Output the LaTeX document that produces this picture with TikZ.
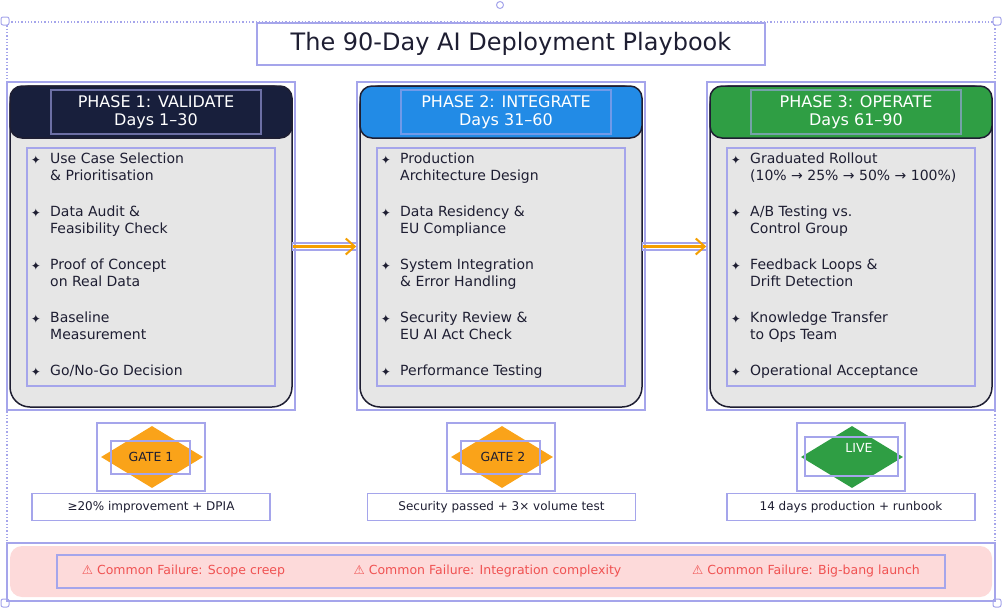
\documentclass[tikz,border=0pt]{standalone}
\usepackage{fontspec}
\setmainfont{DejaVu Sans}
\usepackage{tikz}
\usetikzlibrary{arrows.meta,shapes.geometric,calc}

\definecolor{selline}{RGB}{165,165,235}
\definecolor{inkdark}{RGB}{30,30,50}
\definecolor{navyhead}{RGB}{24,31,60}
\definecolor{bluehead}{RGB}{34,139,230}
\definecolor{greenhead}{RGB}{47,158,68}
\definecolor{bodygray}{RGB}{230,230,230}
\definecolor{gateorange}{RGB}{250,163,25}
\definecolor{failpink}{RGB}{253,218,218}
\definecolor{failred}{RGB}{240,82,82}
\definecolor{arroworange}{RGB}{245,159,0}

\begin{document}
\begin{tikzpicture}[x=1pt,y=-1pt,
  sel/.style={draw=selline,line width=1.3pt},
  phasebody/.style={draw=inkdark,line width=1.5pt,fill=bodygray,rounded corners=20pt,
    minimum width=282pt,minimum height=321pt},
  phasehead/.style={draw=inkdark,line width=1.5pt,rounded corners=12pt,
    minimum width=282pt,minimum height=52pt},
  headtext/.style={sel,draw opacity=0.6,text=white,align=center,minimum width=210pt,
    minimum height=44pt,font=\fontsize{16}{18}\selectfont},
  itemtext/.style={anchor=west,inner sep=0pt,text=inkdark,text height=10pt,text depth=3pt,
    font=\fontsize{14}{16}\selectfont},
  bulletmark/.style={inner sep=0pt,text=inkdark,font=\fontsize{12}{14}\selectfont},
  flowarrow/.style={draw=arroworange,line width=2.6pt,shorten >=3pt,
    -{Straight Barb[length=9pt,width=16pt,line width=2pt]}},
  gate/.style={diamond,inner sep=0pt,minimum width=102pt,minimum height=62pt},
  gatelabel/.style={inner sep=0pt,font=\fontsize{12.5}{15}\selectfont},
  gatecap/.style={sel,fill=white,text=inkdark,minimum height=27pt,
    font=\fontsize{12}{14}\selectfont},
  failtext/.style={inner sep=0pt,text=failred,font=\fontsize{12.5}{15}\selectfont}
]
\useasboundingbox (0,0) rectangle (1002,608);

%-------------------------------------------------------------------
% Selection frame round the whole board
\draw[selline,dotted,line width=1.3pt] (7,22) rectangle (995,601);
\foreach \x/\y in {5/21,997/21,5/603,997/603}{
    \draw[selline,fill=white,line width=1pt,rounded corners=2pt] (\x-4,\y-4) rectangle (\x+4,\y+4);}
\draw[selline,fill=white,line width=1pt] (500,5) circle(3.5pt);

% Title
\node[sel,fill=white,text=inkdark,minimum width=508pt,minimum height=42pt,
  font=\fontsize{24}{26}\selectfont] (title) at (511,44) {The 90-Day AI Deployment Playbook};

%-------------------------------------------------------------------
% Phase frames
\foreach \i/\cx/\col/\name/\days in {1/151/navyhead/VALIDATE/1--30,
    2/501/bluehead/INTEGRATE/31--60,3/851/greenhead/OPERATE/61--90}{
    \draw[sel] (\cx-144,82) rectangle (\cx+144,410);
    \node[phasebody] (p\i) at (\cx,246.5) {};
    \node[phasehead,fill=\col] (h\i) at (\cx,112) {};
    \node[headtext] (ht\i) at (\cx+5,112) {PHASE \i: \name\\Days \days};
    \draw[sel] (\cx-124,148) rectangle (\cx+124,386);
}

% Phase 1 items
\foreach \j/\a/\b in {1/{Use Case Selection}/{\& Prioritisation},
    2/{Data Audit \&}/{Feasibility Check},3/{Proof of Concept}/{on Real Data},
    4/{Baseline}/{Measurement},5/{Go/No-Go Decision}/{}}{
    \pgfmathsetmacro\yy{160+53*(\j-1)}
    \node[bulletmark] (p1s\j) at (36,\yy) {✦};
    \node[itemtext] (p1a\j) at (50,\yy) {\a};
    \node[itemtext] (p1b\j) at (50,\yy+17) {\b};
}

% Phase 2 items
\foreach \j/\a/\b in {1/{Production}/{Architecture Design},
    2/{Data Residency \&}/{EU Compliance},3/{System Integration}/{\& Error Handling},
    4/{Security Review \&}/{EU AI Act Check},5/{Performance Testing}/{}}{
    \pgfmathsetmacro\yy{160+53*(\j-1)}
    \node[bulletmark] (p2s\j) at (386,\yy) {✦};
    \node[itemtext] (p2a\j) at (400,\yy) {\a};
    \node[itemtext] (p2b\j) at (400,\yy+17) {\b};
}

% Phase 3 items
\foreach \j/\a/\b in {1/{Graduated Rollout}/{(10\% → 25\% → 50\% → 100\%)},
    2/{A/B Testing vs.}/{Control Group},3/{Feedback Loops \&}/{Drift Detection},
    4/{Knowledge Transfer}/{to Ops Team},5/{Operational Acceptance}/{}}{
    \pgfmathsetmacro\yy{160+53*(\j-1)}
    \node[bulletmark] (p3s\j) at (736,\yy) {✦};
    \node[itemtext] (p3a\j) at (750,\yy) {\a};
    \node[itemtext] (p3b\j) at (750,\yy+17) {\b};
}

% Hand-over arrows
\foreach \i/\k in {1/2,2/3}{
    \draw[sel] ($(p\i.east)+(0,-3.5)$) rectangle ($(p\k.west)+(-3,3.5)$);
    \draw[flowarrow] (p\i.east) -- (p\k.west);
}

%-------------------------------------------------------------------
% Gates
\foreach \i/\cx/\col/\lbl/\tc/\tx/\ty in {1/152/gateorange/GATE 1/inkdark/151/457,
    2/502/gateorange/GATE 2/inkdark/503/457,3/852/greenhead/LIVE/white/859/448}{
    \draw[sel] (\cx-55,423) rectangle (\cx+53,491);
    \node[gate,fill=\col] (g\i) at (\cx,457) {};
    \node[gatelabel,text=\tc] (gl\i) at (\tx,\ty) {\lbl};
}
\draw[sel] (111,441) rectangle (190,474);
\draw[sel] (461,441) rectangle (540,474);
\draw[sel] (805,437) rectangle (898,476);

% Gate criteria
\foreach \i/\cx/\w/\txt in {1/151/238/{≥20\% improvement + DPIA},
    2/501.5/268/{Security passed + 3× volume test},3/851/248/{14 days production + runbook}}{
    \node[gatecap,minimum width=\w pt] (gc\i) at (\cx,507) {\txt};
}

%-------------------------------------------------------------------
% Common failures band
\draw[sel] (7,543) rectangle (995,601);
\node[fill=failpink,rounded corners=12pt,minimum width=982pt,minimum height=51pt] (band) at (501,571.5) {};
\draw[sel] (57,555) rectangle (945,588);
\foreach \i/\cx/\txt in {1/183.5/{Scope creep},2/487.5/{Integration complexity},3/806/{Big-bang launch}}{
    \node[failtext] (f\i) at (\cx,571) {⚠ Common Failure: \txt};
}

\end{tikzpicture}
\end{document}
